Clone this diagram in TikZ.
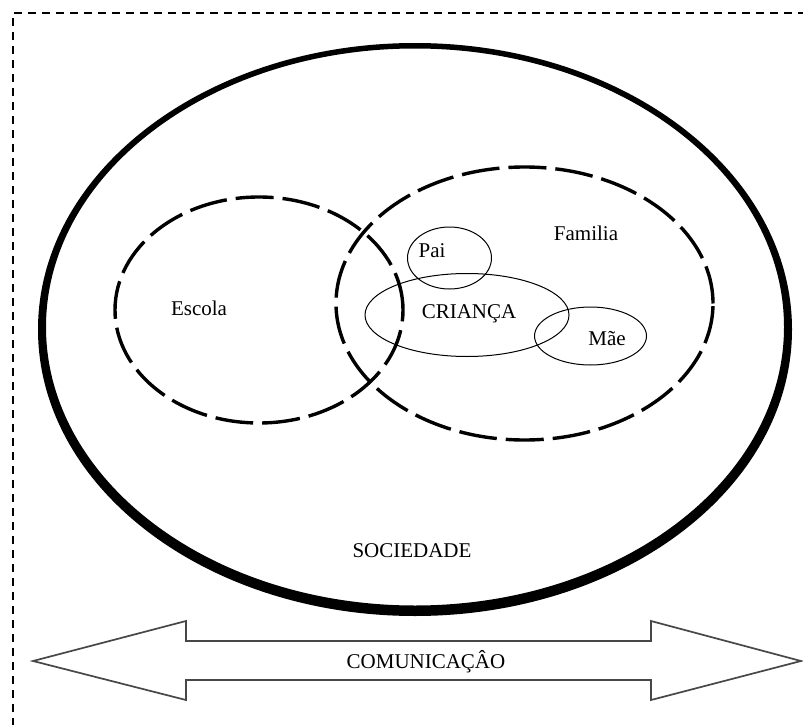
\documentclass[tikz,border=0pt]{standalone}
\usepackage{fontspec}
\setmainfont{Liberation Serif}
\usetikzlibrary{shapes.geometric}
\tikzset{
  lbl/.style={inner sep=0pt, font=\fontsize{21}{23}\selectfont},
  thinell/.style={ellipse, draw, line width=1pt, inner sep=0pt},
  dashell/.style={ellipse, draw, line width=3.4pt, inner sep=0pt, dash pattern=on 38pt off 9pt},
  bigarrow/.style={draw=black!72, line width=1.7pt, line join=miter, fill=white},
  frame/.style={draw, line width=2pt, dash pattern=on 8pt off 6pt}
}
\begin{document}
\begin{tikzpicture}[x=1pt, y=-1pt]
\useasboundingbox (0,0) rectangle (803,725);
\clip (0,0) rectangle (803,725);
\fill[white] (0,0) rectangle (803,725);
\draw[frame] (13,740) -- (13,13) -- (820,13);

% outer society ellipse: ring of varying thickness
\node[ellipse, inner sep=0pt, minimum width=744pt, minimum height=562pt] (soc) at (416,329) {};
\fill[black, even odd rule]
  (415,329.5) ellipse [x radius=377, y radius=286.5]
  (415,327)   ellipse [x radius=369, y radius=278.5];

\node[dashell, minimum width=288pt, minimum height=226pt] (escola) at (259,310) {};
\node[dashell, minimum width=377pt, minimum height=273pt] (familia) at (524.5,303.5) {};
\node[thinell, minimum width=84pt, minimum height=62pt] (pai) at (449.5,258) {};
\node[thinell, minimum width=204pt, minimum height=83pt] (crianca) at (467,315) {};
\node[thinell, minimum width=112pt, minimum height=58pt] (mae) at (590.5,336) {};

\node[lbl] (tfam) at (586,233) {Familia};
\node[lbl] (tpai) at (432,251) {Pai};
\node[lbl] (tesc) at (199,308) {Escola};
\node[lbl] (tcri) at (469,314) {CRIANÇA};
\node[lbl] (tmae) at (607,339) {Mãe};
\node[lbl] (tsoc) at (412,551) {SOCIEDADE};

\coordinate (lt) at (33,661);
\coordinate (rt) at (801,661);
\draw[bigarrow] (lt) -- (186,621) -- (186,641) -- (651,641) -- (651,621) -- (rt)
  -- (651,700) -- (651,680) -- (186,680) -- (186,700) -- cycle;
\node[lbl] (tcom) at (426,662) {COMUNICAÇÂO};
\end{tikzpicture}
\end{document}
